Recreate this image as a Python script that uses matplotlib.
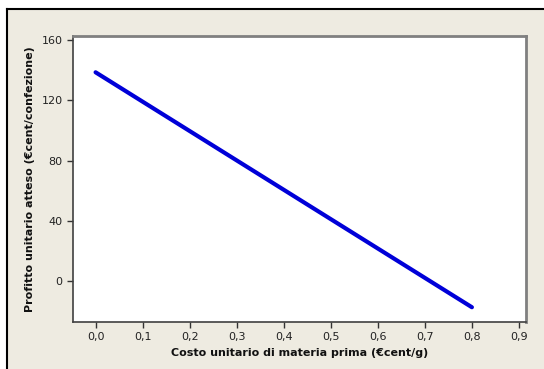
import matplotlib
matplotlib.use("Agg")
import matplotlib.pyplot as plt
from matplotlib.ticker import FuncFormatter

# Unit cost of raw material (€cent/g) and expected unit profit (€cent/pack)
costo = [0.0, 0.8]
profitto = [138.6, -17.4]

x_ticks = [0.0, 0.1, 0.2, 0.3, 0.4, 0.5, 0.6, 0.7, 0.8, 0.9]
y_ticks = [0, 40, 80, 120, 160]

W, H = 544, 369
fig = plt.figure(figsize=(W / 100, H / 100), dpi=100)
fig.patch.set_facecolor("white")

# beige panel with a black edge on top and left
bg = fig.add_axes([7 / W, 0, 1 - 7 / W, 1 - 9 / H], zorder=-10)
bg.set_facecolor("#EEEBE1")
bg.set_xticks([])
bg.set_yticks([])
for side in ["right", "bottom"]:
    bg.spines[side].set_visible(False)
for side in ["left", "top"]:
    bg.spines[side].set_color("black")
    bg.spines[side].set_linewidth(1.5)

left, right, top, bottom = 73, 526, 36, 322
ax = fig.add_axes([left / W, 1 - bottom / H, (right - left) / W, (bottom - top) / H])
ax.set_facecolor("white")

ax.plot(costo, profitto, color="#0000D8", lw=3, solid_capstyle="round")

ax.set_xlim(-0.048, 0.915)
ax.set_ylim(-27.2, 162.7)
ax.set_xticks(x_ticks)
ax.set_yticks(y_ticks)
ax.xaxis.set_major_formatter(FuncFormatter(lambda v, p: f"{v:.1f}".replace(".", ",")))
ax.tick_params(axis="both", direction="out", length=4, width=1, color="#333333",
               labelsize=8, labelcolor="#222222")

for side in ["top", "right"]:
    ax.spines[side].set_color("#808080")
    ax.spines[side].set_linewidth(2)
for side in ["left", "bottom"]:
    ax.spines[side].set_color("#404040")
    ax.spines[side].set_linewidth(1.2)

ax.set_xlabel("Costo unitario di materia prima (€cent/g)", fontsize=8,
              fontweight="bold", color="#111111", labelpad=4)
ax.set_ylabel("Profitto unitario atteso (€cent/confezione)", fontsize=8,
              fontweight="bold", color="#111111", labelpad=5)

fig.savefig("out.png", dpi=100, facecolor=fig.get_facecolor())
